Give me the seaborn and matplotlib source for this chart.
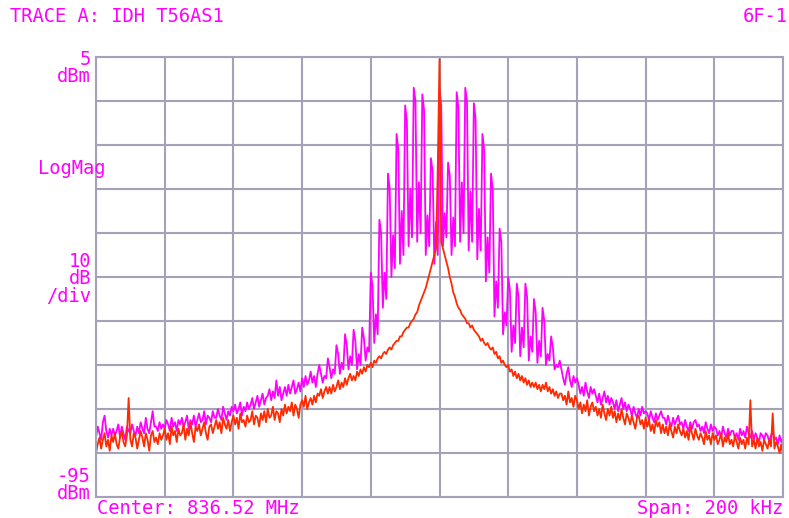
import numpy as np
import pandas as pd
import matplotlib
matplotlib.use("Agg")
import matplotlib.pyplot as plt
import seaborn as sns

# 401 sweep points, kHz offset from the 836.52 MHz centre
freq = np.arange(-100, 100.5, 0.5)

# magenta trace (modulated carrier), dBm: -100 .. -35.5 kHz
magenta_left = [
    -81.5, -79, -80.5, -82, -78, -76.5, -80, -81.5, -79.5, -81,
    -79.5, -81, -80, -78.5, -81.5, -79, -80.5, -82, -79, -80,
    -80.5, -78.5, -80, -81, -79, -80.5, -78, -79.5, -80.5, -77,
    -79.5, -80.5, -78, -75.5, -79, -79, -80, -78, -79.5, -78.5,
    -79.5, -77.5, -78.5, -80, -77, -79, -78, -80, -77.5, -78.5,
    -77, -79, -78, -76.5, -79.5, -77.5, -78.5, -76.5, -79, -77.5,
    -76, -78, -77.5, -75.5, -78.5, -76.5, -77, -78, -75.5, -77,
    -77, -75, -76.5, -77.5, -74.5, -76, -77.5, -75.5, -76.5, -74.5,
    -75.5, -74, -76, -75, -73.5, -76.5, -74.5, -75.5, -73.5, -75,
    -74, -72.5, -75, -73.5, -72, -74.5, -73, -71.5, -74, -72.5,
    -72, -70.5, -73, -71, -72.5, -68.5, -72, -70, -73, -71.5,
    -70, -72, -69.5, -71.5, -70, -68.5, -71.5, -70.5, -69, -71,
    -68, -70, -67.5, -69.5, -68.5, -66.5, -69, -67.5, -70, -67,
]
# -35 .. +35 kHz, FM sidebands every 2.5 kHz
magenta_center = [
    -65, -67, -69, -67.5, -68,
    -63.5, -65.5, -68, -66, -67,
    -60.5, -62.5, -67, -64.5, -66,
    -58, -60.5, -66, -63, -65,
    -57, -59.5, -66, -62.5, -65,
    -56.5, -59, -64, -61, -62,
    -44, -47, -60, -53.5, -58,
    -32, -35, -52, -44, -50,
    -21.5, -25, -45, -35.5, -43,
    -12.5, -16, -42, -30, -40,
    -6, -9.5, -38, -25, -36,
    -2, -5, -37, -23.5, -35,
    -3.5, -7, -40, -31, -38,
    -18, -21, -42, -32.5, -40,
    -2.5, -6, -38, -30.5, -36,
    -19, -22, -40, -31.5, -38,
    -3, -6.5, -37, -23.5, -35,
    -2, -5, -39, -25.5, -37,
    -5.5, -9, -41, -29.5, -39,
    -12.5, -16, -46, -36, -44,
    -21.5, -25, -54, -46, -52,
    -34, -37, -58, -53, -56,
    -45, -48, -62, -56, -60,
    -46.5, -49.5, -63, -56.5, -61,
    -46.5, -49.5, -64, -58.5, -62,
    -50, -53, -64.5, -59.5, -63,
    -52, -55, -65, -62.5, -64,
    -58.5, -61, -66, -65, -65.5,
    -64,
]
# +35.5 .. +100 kHz
magenta_right = [
    -66, -68, -69.5, -67, -65.5, -68.5, -70, -67.5, -69, -68,
    -69.5, -71.5, -70, -72, -69, -71, -72.5, -70, -71.5, -70.5,
    -72, -73.5, -71.5, -74, -72.5, -71, -73.5, -72, -74, -72.5,
    -73.5, -75, -73, -75.5, -74, -72.5, -75, -73.5, -75.5, -74,
    -75, -76.5, -74.5, -76, -77, -75, -76.5, -74.5, -76, -75.5,
    -76, -77.5, -75.5, -77, -78, -76, -77.5, -76.5, -75.5, -77,
    -77, -78.5, -76.5, -78, -79, -77, -78.5, -77.5, -76.5, -78.5,
    -78, -79.5, -77.5, -79, -80, -78, -79.5, -78, -77.5, -79,
    -78.5, -80, -79, -80.5, -78, -79.5, -80.5, -78.5, -80, -79,
    -79.5, -81, -80, -81.5, -79, -80.5, -81.5, -79.5, -81, -80,
    -80, -81.5, -80.5, -82, -79.5, -81, -80, -81.5, -79, -80.5,
    -81.5, -80, -82, -80.5, -81.5, -82.5, -80.5, -81, -82, -80.5,
    -81, -82.5, -81, -80, -82, -81.5, -83, -81, -82.5, -81.5,
]

# red trace (unmodulated carrier), dBm
red_left = [
    -85, -83, -81.5, -84, -82, -80.5, -83.5, -82, -84.5, -81,
    -82.5, -80.5, -83, -84, -81.5, -80, -82.5, -83.5, -81, -72.5,
    -82, -83.5, -80.5, -81.5, -84, -82, -80, -81.5, -83.5, -80.5,
    -82, -84.5, -81, -80, -82.5, -81.5, -83, -80.5, -82, -81,
    -79.5, -82, -80.5, -83, -79, -81, -80, -82.5, -79.5, -81,
    -80.5, -78.5, -82, -79.5, -81, -78, -80.5, -82.5, -79, -80,
    -78.5, -81, -79.5, -78, -80.5, -82, -79, -78.5, -80.5, -79,
    -77.5, -79.5, -78, -80.5, -77, -78.5, -79.5, -77.5, -80, -78,
    -76.5, -78.5, -77, -79.5, -76, -78, -77.5, -79, -76.5, -78,
    -77.5, -75.5, -78.5, -76.5, -77, -79, -76, -77.5, -75.5, -78,
    -75, -77, -76.5, -74.5, -77.5, -75.5, -76, -78, -75, -76.5,
    -74, -76, -74.5, -75.5, -73.5, -76.5, -74, -75, -77, -74,
    -73, -74.5, -72, -75, -73.5, -72.5, -74, -72, -73.5, -71.5,
]
red_center = [
    -72, -70.5, -72.5, -71, -70, -71.5, -70, -71.5, -69.5, -71,
    -70, -68.5, -70.5, -69, -70, -68, -69.5, -68, -67, -68.5,
    -67.5, -68.5, -66.5, -67.5, -66, -67, -65.5, -66.5, -65, -65.5,
    -64.5, -65.5, -64, -64.5, -63.5, -63, -63.5, -62.5, -62, -62.5,
    -61.5, -61, -61.5, -60.5, -60, -59.5, -59.5, -58.5, -58.5, -57.5,
    -57, -56.5, -56.5, -55.5, -55, -54.5, -53.5, -53, -51.5, -50.5,
    -49.5, -48.5, -47.5, -46, -44.5, -43, -41.5, -40, -38.5, -20,
    4.5, -37, -38.5, -40, -41.5, -43, -45, -46.5, -48.5, -49.5,
    -51, -52, -52.5, -53.5, -54, -54.5, -55.5, -55.5, -56.5, -56,
    -57, -57.5, -58, -58.5, -59.5, -59, -60, -60.5, -60, -61,
    -61.5, -61, -62.5, -62, -63.5, -63, -64.5, -64, -65, -65.5,
    -65, -66.5, -66, -67.5, -66.5, -68, -67, -68.5, -67.5, -69,
    -68, -69.5, -68.5, -70, -69, -70, -69, -70.5, -69.5, -71,
    -69.5, -70.5, -69, -71, -70, -71.5, -70.5, -72, -71, -72.5,
    -71.5,
]
red_right = [
    -71.5, -73, -72, -74, -71, -73.5, -72.5, -74.5, -72, -73,
    -75, -73.5, -76, -74, -75.5, -73, -76.5, -74.5, -73.5, -75.5,
    -74.5, -76.5, -75, -77, -74, -76, -77.5, -75, -76.5, -74.5,
    -77, -75.5, -78, -76, -77.5, -75, -77, -78.5, -76, -77,
    -78.5, -76.5, -78, -79.5, -77, -76.5, -78.5, -77.5, -79.5, -77,
    -79, -77.5, -80, -78.5, -80.5, -77.5, -79, -78, -80.5, -78.5,
    -80.5, -79, -81, -78.5, -80, -81.5, -79, -80.5, -78.5, -80,
    -81, -79.5, -81.5, -80, -82, -79, -80.5, -82, -79.5, -81,
    -82, -80.5, -81.5, -83, -80, -82, -81, -83, -80.5, -82,
    -81, -83, -82, -80.5, -83.5, -81.5, -82.5, -80.5, -83, -82,
    -83.5, -81, -82.5, -84, -81.5, -83, -82, -84, -81.5, -83,
    -73, -83.5, -82, -84, -81.5, -83.5, -82.5, -84.5, -82, -83,
    -84, -82, -83.5, -76, -84, -82.5, -83.5, -85, -83, -85.5,
]

df = pd.concat([
    pd.DataFrame({"freq": freq, "level": magenta_left + magenta_center + magenta_right, "trace": "A"}),
    pd.DataFrame({"freq": freq, "level": red_left + red_center + red_right, "trace": "B"}),
])

sns.set_theme(style="white")
plt.rcParams['font.family'] = ['DejaVu Sans Mono']

W, H = 789, 518
grid_col = "#a4a2b8"
mag = "#ff00ff"
red = "#ff2a00"

fig = plt.figure(figsize=(W / 100, H / 100), dpi=100)
ax = fig.add_axes([96 / W, 21 / H, 687 / W, 440 / H])

sns.lineplot(data=df, x="freq", y="level", hue="trace", palette={"A": mag, "B": red},
             estimator=None, sort=False, legend=False, linewidth=1.3, ax=ax)

ax.set_xlim(-100, 100)
ax.set_ylim(-95, 5)
ax.set_xticks(np.arange(-100, 101, 20))
ax.set_yticks(np.arange(-95, 6, 10))
ax.set_axisbelow(True)
ax.grid(True, color=grid_col, linewidth=1.5)
ax.tick_params(length=0, labelbottom=False, labelleft=False)
ax.set_xlabel("")
ax.set_ylabel("")
for s in ax.spines.values():
    s.set_color(grid_col)
    s.set_linewidth(1.5)


def label(x, y, txt, ha="left"):
    fig.text(x / W, 1 - y / H, txt, ha=ha, va="center", multialignment=ha,
             color=mag, fontsize=13.5, linespacing=0.92)


label(10, 16, "TRACE A: IDH T56AS1")
label(788, 17, "6F-1", ha="right")
label(91, 68, "5\ndBm", ha="right")
label(38, 168, "LogMag")
label(91, 279, "10\ndB\n/div", ha="right")
label(91, 485, "-95\ndBm", ha="right")
label(97, 508, "Center: 836.52 MHz")
label(783, 508, "Span: 200 kHz", ha="right")

fig.savefig("out.png", dpi=100, facecolor="white")
